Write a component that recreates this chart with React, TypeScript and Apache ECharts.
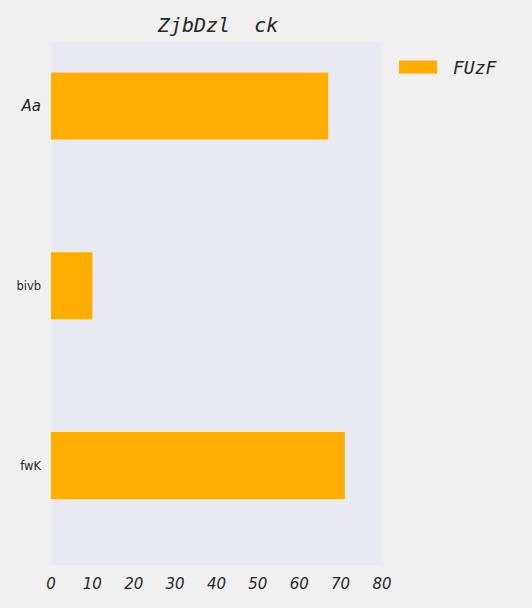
import React, { useEffect, useRef } from "react";
import * as echarts from "echarts";

const title = "ZjbDzl  ck";
const seriesName = "FUzF";
const categories = ["Aa", "bivb", "fwK"];
const values = [67, 10, 71];
const xTicks = [0, 10, 20, 30, 40, 50, 60, 70, 80];

export default function App() {
  const ref = useRef<HTMLDivElement>(null);
  useEffect(() => {
    document.body.style.margin = "0";
    document.body.style.background = "#f0f0f0";
    const chart = echarts.init(ref.current!, undefined, { renderer: "svg" });
    chart.setOption({
      animation: false,
      backgroundColor: "#f0f0f0",
      title: {
        text: title,
        left: 213,
        textAlign: "center",
        top: 10,
        textStyle: {
          fontFamily: "DejaVu Sans Mono",
          fontStyle: "italic",
          fontWeight: "normal",
          fontSize: 20,
          color: "#262626",
        },
      },
      legend: {
        data: [seriesName],
        left: 399,
        top: 58,
        padding: 0,
        itemWidth: 38,
        itemHeight: 13,
        icon: "rect",
        textStyle: {
          fontFamily: "DejaVu Sans Mono",
          fontStyle: "italic",
          fontSize: 18,
          color: "#262626",
          padding: [0, 0, 0, 11],
        },
      },
      graphic: [
        {
          type: "rect",
          z: -10,
          silent: true,
          shape: { x: 51, y: 42, width: 331, height: 523 },
          style: { fill: "#eaeaf2" },
        },
      ],
      grid: { left: 51, right: 150, top: 16, bottom: 52.5 },
      xAxis: {
        type: "value",
        min: xTicks[0],
        max: xTicks[xTicks.length - 1],
        interval: 10,
        axisLine: { show: false },
        axisTick: { show: false },
        splitLine: { show: false },
        axisLabel: {
          margin: 21,
          fontFamily: "DejaVu Sans",
          fontStyle: "italic",
          fontSize: 15,
          color: "#262626",
        },
      },
      yAxis: {
        type: "category",
        inverse: true,
        data: categories,
        axisLine: { show: false },
        axisTick: { show: false },
        splitLine: { show: false },
        axisLabel: {
          margin: 10,
          color: "#262626",
          fontFamily: "DejaVu Sans",
          fontSize: 11.5,
          rich: {
            big: { fontFamily: "DejaVu Sans", fontStyle: "italic", fontSize: 15, color: "#262626" },
          },
          formatter: (v: string) => (v === categories[0] ? `{big|${v}}` : v),
        },
      },
      series: [
        {
          name: seriesName,
          type: "bar",
          data: values,
          barWidth: 67,
          itemStyle: { color: "#ffae00" },
        },
      ],
    });
    return () => chart.dispose();
  }, []);
  return <div ref={ref} style={{ width: 532, height: 608 }} />;
}
